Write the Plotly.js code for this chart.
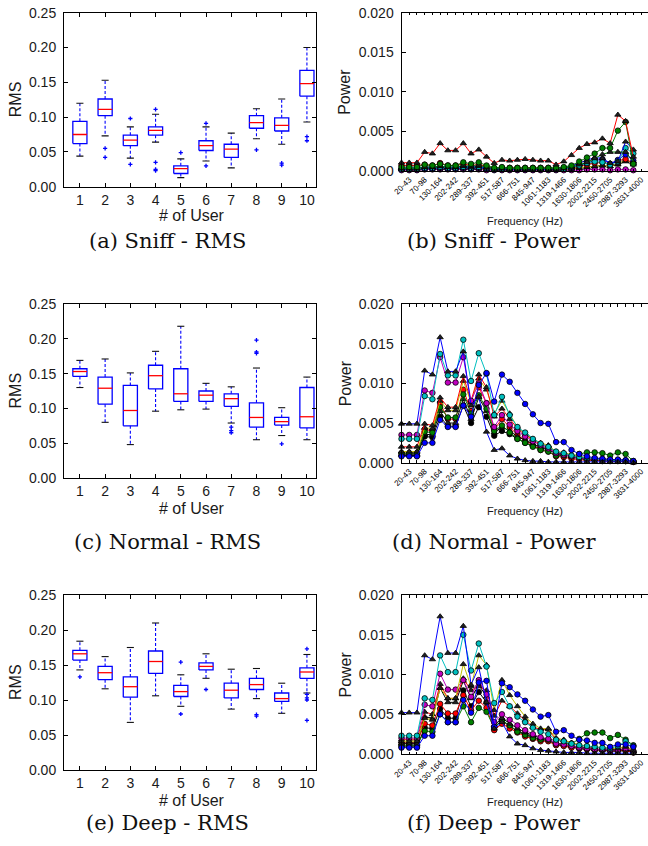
<!DOCTYPE html>
<html><head><meta charset="utf-8">
<script src="https://cdn.plot.ly/plotly-3.0.1.min.js"></script>
<style>html,body{margin:0;padding:0;background:#fff;} #chart{width:648px;height:846px;}</style>
</head><body><div id="chart"></div>
<script>
// ---------- DATA ----------
const users = [1,2,3,4,5,6,7,8,9,10];
const bandLabels = ['20-43','70-98','130-164','202-242','289-337','392-451','517-587','666-751','845-947','1061-1183','1319-1466','1630-1806','2002-2215','2450-2705','2987-3293','3631-4000'];

// Box statistics (upper whisker, Q3, median, Q1, lower whisker, outliers)
const sniffHi  = [0.120,0.153,0.086,0.104,0.040,0.086,0.077,0.112,0.126,0.200];
const sniffQ3  = [0.094,0.126,0.074,0.086,0.030,0.066,0.061,0.102,0.099,0.167];
const sniffMed = [0.075,0.111,0.067,0.081,0.026,0.059,0.054,0.092,0.088,0.148];
const sniffQ1  = [0.062,0.102,0.059,0.074,0.019,0.052,0.042,0.084,0.080,0.130];
const sniffLo  = [0.044,0.073,0.041,0.064,0.013,0.037,0.027,0.069,0.061,0.093];
const sniffOut = [[],[0.055,0.042],[0.098,0.032],[0.111,0.035,0.025,0.023],[0.049],[0.091,0.030],[],[0.053],[0.034,0.031],[0.072,0.066]];

const normalHi  = [0.169,0.171,0.151,0.182,0.218,0.136,0.131,0.158,0.101,0.145];
const normalQ3  = [0.157,0.145,0.133,0.162,0.157,0.125,0.121,0.108,0.087,0.130];
const normalMed = [0.153,0.129,0.097,0.147,0.121,0.119,0.114,0.087,0.081,0.088];
const normalQ1  = [0.146,0.106,0.075,0.128,0.110,0.110,0.103,0.073,0.076,0.072];
const normalLo  = [0.130,0.080,0.048,0.096,0.098,0.099,0.079,0.055,0.061,0.055];
const normalOut = [[],[],[],[],[],[],[0.073,0.068,0.065],[0.198,0.181,0.179],[0.049],[]];

const deepHi  = [0.184,0.162,0.175,0.210,0.136,0.166,0.144,0.145,0.124,0.165];
const deepQ3  = [0.171,0.148,0.133,0.170,0.121,0.153,0.124,0.131,0.110,0.146];
const deepMed = [0.166,0.139,0.119,0.155,0.112,0.148,0.114,0.122,0.102,0.140];
const deepQ1  = [0.157,0.129,0.104,0.138,0.105,0.143,0.103,0.115,0.098,0.131];
const deepLo  = [0.143,0.116,0.068,0.106,0.091,0.131,0.087,0.102,0.081,0.110];
const deepOut = [[0.133],[],[],[],[0.154,0.080],[0.115],[],[0.079,0.077],[],[0.173,0.108,0.103,0.100,0.071]];

// Power per frequency band (31 bands)
const sniffRedTri   = [0.00105,0.00105,0.00105,0.0024,0.0022,0.0035,0.0026,0.0026,0.0035,0.0022,0.0027,0.0018,0.0010,0.0014,0.0013,0.0014,0.0015,0.0014,0.0013,0.0013,0.0008,0.0012,0.0020,0.0029,0.0034,0.0036,0.0041,0.0035,0.0071,0.0063,0.0018];
const sniffGreenCirc= [0.0005,0.0005,0.0005,0.0008,0.0007,0.0009,0.0007,0.0007,0.0011,0.0009,0.0011,0.0007,0.0004,0.0005,0.0004,0.0004,0.0004,0.0004,0.0004,0.0004,0.0004,0.0005,0.0007,0.0012,0.0017,0.0022,0.0029,0.0029,0.0051,0.0062,0.0009];
const sniffGreenTri = [0.0003,0.0003,0.0003,0.0005,0.0005,0.0006,0.0005,0.0005,0.0007,0.0006,0.0007,0.0005,0.0003,0.0004,0.0003,0.0003,0.0003,0.0003,0.0003,0.0003,0.0003,0.0004,0.0005,0.0008,0.0011,0.0016,0.0021,0.0024,0.0024,0.0024,0.0012];
const sniffBlueTri  = [0.0004,0.0004,0.0004,0.0005,0.0005,0.0006,0.0005,0.0005,0.0006,0.0005,0.0006,0.0004,0.0003,0.0003,0.0003,0.0003,0.0003,0.0003,0.0003,0.0003,0.0003,0.0004,0.0006,0.0010,0.0014,0.0017,0.0016,0.0010,0.0012,0.0037,0.0027];
const sniffCyanCirc = [0.0003,0.0003,0.0003,0.0004,0.0004,0.0005,0.0004,0.0004,0.0005,0.0004,0.0005,0.0004,0.0002,0.0003,0.0003,0.0003,0.0003,0.0003,0.0003,0.0003,0.0003,0.0003,0.0005,0.0007,0.0010,0.0012,0.0011,0.0008,0.0012,0.0029,0.0022];
const sniffBlueCirc = [0.0002,0.0002,0.0002,0.0003,0.0003,0.0004,0.0003,0.0003,0.0004,0.0003,0.0004,0.0003,0.0002,0.0002,0.0002,0.0002,0.0002,0.0002,0.0002,0.0002,0.0002,0.0003,0.0004,0.0007,0.0010,0.0013,0.0015,0.0009,0.0014,0.0021,0.0013];
const sniffRedCirc  = [0.0007,0.0007,0.0007,0.0008,0.0007,0.0010,0.0007,0.0007,0.0009,0.0007,0.0008,0.0006,0.0003,0.0004,0.0004,0.0004,0.0004,0.0004,0.0004,0.0004,0.0003,0.0004,0.0004,0.0006,0.0008,0.0010,0.0011,0.0009,0.0013,0.0015,0.0010];
const sniffYellowTri= [0.0002,0.0002,0.0002,0.0003,0.0003,0.0003,0.0003,0.0003,0.0003,0.0003,0.0003,0.0002,0.0002,0.0002,0.0002,0.0002,0.0002,0.0002,0.0002,0.0002,0.0002,0.0002,0.0003,0.0004,0.0005,0.0006,0.0007,0.0006,0.0009,0.0014,0.0010];
const sniffBlackTri = [0.0003,0.0003,0.0003,0.0004,0.0004,0.0004,0.0004,0.0004,0.0004,0.0004,0.0004,0.0003,0.0002,0.0002,0.0002,0.0002,0.0002,0.0002,0.0002,0.0002,0.0002,0.0002,0.0003,0.0004,0.0005,0.0006,0.0007,0.0006,0.0008,0.0012,0.0008];
const sniffMagCirc  = [0.0001,0.0001,0.0001,0.0002,0.0002,0.0002,0.0002,0.0002,0.0002,0.0002,0.0002,0.0001,0.0001,0.0001,0.0001,0.0001,0.0001,0.0001,0.0001,0.0001,0.0001,0.0001,0.0001,0.0001,0.0002,0.0002,0.0002,0.0001,0.0002,0.0002,0.0001];

const normalBlueTri  = [0.0049,0.0049,0.0049,0.0116,0.0111,0.0158,0.0115,0.0115,0.0140,0.0072,0.0083,0.0039,0.0016,0.0018,0.0009,0.0005,0.0003,0.0002,0.0002,0.0001,0.0001,0.0001,0.0001,0.0001,0.0001,0.0001,0.0001,0.0001,0.0001,0.0001,0.0000];
const normalBlueCirc = [0.0008,0.0008,0.0008,0.0025,0.0025,0.0054,0.0045,0.0045,0.0072,0.0058,0.0098,0.0113,0.0077,0.0111,0.0102,0.0088,0.0074,0.0061,0.0050,0.0049,0.0026,0.0026,0.0016,0.0011,0.0008,0.0006,0.0005,0.0004,0.0004,0.0003,0.0002];
const normalCyanCirc = [0.0030,0.0030,0.0030,0.0084,0.0080,0.0137,0.0110,0.0110,0.0155,0.0103,0.0138,0.0112,0.0060,0.0083,0.0060,0.0045,0.0038,0.0030,0.0024,0.0020,0.0014,0.0012,0.0009,0.0007,0.0006,0.0005,0.0004,0.0003,0.0003,0.0003,0.0002];
const normalMagCirc  = [0.0035,0.0035,0.0035,0.0091,0.0088,0.0133,0.0101,0.0101,0.0133,0.0078,0.0100,0.0075,0.0045,0.0060,0.0048,0.0040,0.0033,0.0027,0.0022,0.0018,0.0012,0.0010,0.0008,0.0006,0.0005,0.0004,0.0004,0.0003,0.0003,0.0003,0.0002];
const normalRedTri   = [0.0020,0.0020,0.0020,0.0049,0.0047,0.0082,0.0070,0.0070,0.0109,0.0078,0.0111,0.0095,0.0058,0.0068,0.0055,0.0043,0.0035,0.0029,0.0023,0.0021,0.0013,0.0012,0.0009,0.0007,0.0006,0.0005,0.0004,0.0004,0.0003,0.0003,0.0002];
const normalYellowTri= [0.0014,0.0014,0.0014,0.0044,0.0043,0.0078,0.0066,0.0066,0.0103,0.0076,0.0106,0.0092,0.0062,0.0078,0.0062,0.0045,0.0037,0.0030,0.0025,0.0022,0.0014,0.0013,0.0010,0.0008,0.0006,0.0005,0.0005,0.0004,0.0004,0.0003,0.0002];
const normalGreenCirc= [0.0012,0.0012,0.0012,0.0039,0.0038,0.0070,0.0057,0.0057,0.0086,0.0062,0.0085,0.0068,0.0040,0.0047,0.0038,0.0030,0.0025,0.0020,0.0016,0.0014,0.0009,0.0009,0.0008,0.0011,0.0013,0.0013,0.0012,0.0009,0.0013,0.0011,0.0002];
const normalBlackTri = [0.0010,0.0010,0.0010,0.0036,0.0035,0.0065,0.0050,0.0050,0.0080,0.0055,0.0082,0.0065,0.0038,0.0045,0.0040,0.0033,0.0028,0.0023,0.0019,0.0018,0.0012,0.0011,0.0008,0.0007,0.0005,0.0004,0.0004,0.0003,0.0003,0.0003,0.0002];
const normalRedCirc  = [0.0012,0.0012,0.0012,0.0042,0.0040,0.0075,0.0055,0.0055,0.0092,0.0065,0.0095,0.0075,0.0042,0.0055,0.0045,0.0035,0.0028,0.0022,0.0016,0.0014,0.0008,0.0007,0.0005,0.0004,0.0003,0.0003,0.0002,0.0002,0.0002,0.0002,0.0001];
const normalBlackCirc= [0.0009,0.0009,0.0009,0.0033,0.0032,0.0058,0.0046,0.0046,0.0072,0.0050,0.0070,0.0058,0.0034,0.0040,0.0036,0.0030,0.0025,0.0021,0.0018,0.0017,0.0011,0.0010,0.0008,0.0006,0.0005,0.0004,0.0003,0.0003,0.0003,0.0002,0.0001];

const deepBlueTri  = [0.0052,0.0052,0.0052,0.0124,0.0119,0.0173,0.0127,0.0127,0.0161,0.0087,0.0109,0.0065,0.0032,0.0040,0.0022,0.0013,0.0011,0.0007,0.0005,0.0004,0.0003,0.0002,0.0002,0.0002,0.0001,0.0001,0.0001,0.0001,0.0001,0.0001,0.0001];
const deepBlueCirc = [0.0008,0.0008,0.0008,0.0023,0.0023,0.0050,0.0040,0.0040,0.0068,0.0052,0.0090,0.0092,0.0034,0.0089,0.0084,0.0075,0.0067,0.0056,0.0047,0.0049,0.0028,0.0030,0.0023,0.0018,0.0017,0.0014,0.0014,0.0009,0.0012,0.0012,0.0009];
const deepCyanCirc = [0.0023,0.0023,0.0023,0.0070,0.0068,0.0124,0.0103,0.0103,0.0150,0.0105,0.0139,0.0110,0.0064,0.0078,0.0060,0.0047,0.0040,0.0033,0.0028,0.0025,0.0018,0.0016,0.0013,0.0011,0.0010,0.0009,0.0008,0.0007,0.0010,0.0016,0.0010];
const deepYellowTri= [0.0016,0.0016,0.0016,0.0045,0.0043,0.0083,0.0070,0.0070,0.0113,0.0085,0.0124,0.0112,0.0055,0.0093,0.0074,0.0060,0.0047,0.0038,0.0032,0.0032,0.0020,0.0018,0.0014,0.0012,0.0010,0.0009,0.0008,0.0007,0.0007,0.0009,0.0005];
const deepMagCirc  = [0.0020,0.0020,0.0020,0.0062,0.0060,0.0101,0.0081,0.0081,0.0093,0.0072,0.0093,0.0075,0.0040,0.0050,0.0043,0.0036,0.0030,0.0025,0.0021,0.0019,0.0013,0.0012,0.0010,0.0008,0.0007,0.0006,0.0006,0.0005,0.0005,0.0007,0.0004];
const deepRedTri   = [0.0018,0.0018,0.0018,0.0053,0.0050,0.0088,0.0070,0.0070,0.0095,0.0080,0.0085,0.0080,0.0048,0.0067,0.0060,0.0051,0.0043,0.0034,0.0031,0.0031,0.0018,0.0017,0.0014,0.0011,0.0010,0.0008,0.0008,0.0007,0.0006,0.0010,0.0003];
const deepBlackTri = [0.0013,0.0013,0.0013,0.0047,0.0045,0.0083,0.0065,0.0065,0.0092,0.0070,0.0087,0.0072,0.0036,0.0045,0.0038,0.0032,0.0027,0.0023,0.0020,0.0019,0.0013,0.0012,0.0010,0.0008,0.0007,0.0006,0.0005,0.0005,0.0005,0.0006,0.0003];
const deepGreenCirc= [0.0011,0.0011,0.0011,0.0029,0.0028,0.0050,0.0040,0.0040,0.0060,0.0040,0.0058,0.0053,0.0033,0.0043,0.0036,0.0028,0.0024,0.0020,0.0018,0.0018,0.0013,0.0013,0.0013,0.0019,0.0026,0.0027,0.0027,0.0020,0.0024,0.0018,0.0011];
const deepRedCirc  = [0.0014,0.0014,0.0014,0.0038,0.0036,0.0063,0.0051,0.0051,0.0074,0.0055,0.0067,0.0058,0.0030,0.0038,0.0032,0.0027,0.0022,0.0019,0.0016,0.0016,0.0011,0.0010,0.0008,0.0007,0.0006,0.0005,0.0005,0.0004,0.0004,0.0005,0.0002];
const deepBlackCirc= [0.0009,0.0009,0.0009,0.0033,0.0032,0.0057,0.0045,0.0045,0.0080,0.0060,0.0078,0.0065,0.0034,0.0042,0.0035,0.0029,0.0025,0.0021,0.0018,0.0017,0.0012,0.0011,0.0009,0.0007,0.0006,0.0005,0.0005,0.0004,0.0004,0.0004,0.0002];

// ---------- STYLE ----------
const C = {b:'#0000ff', r:'#ff0000', g:'#008000', c:'#00bfbf', m:'#bf00bf', y:'#bfbf00', k:'#000000'};
const W = 648, H = 846;
const px = v => v / W, py = v => 1 - v / H;

const traces = [];

function addBoxes(hi, q3, med, q1, lo, out, n) {
  const xa = 'x' + (n === 1 ? '' : n), ya = 'y' + (n === 1 ? '' : n);
  const bw = 0.28, cw = 0.14;
  const bx=[],by=[],mx=[],my=[],wx=[],wy=[],cx=[],cy=[],ox=[],oy=[];
  users.forEach((u,i) => {
    bx.push(u-bw,u+bw,u+bw,u-bw,u-bw,null); by.push(q1[i],q1[i],q3[i],q3[i],q1[i],null);
    mx.push(u-bw,u+bw,null); my.push(med[i],med[i],null);
    wx.push(u,u,null,u,u,null); wy.push(q3[i],hi[i],null,q1[i],lo[i],null);
    cx.push(u-cw,u+cw,null,u-cw,u+cw,null); cy.push(hi[i],hi[i],null,lo[i],lo[i],null);
    out[i].forEach(v => { ox.push(u); oy.push(v); });
  });
  const base = {type:'scatter', mode:'lines', xaxis:xa, yaxis:ya, hoverinfo:'skip', showlegend:false};
  traces.push(Object.assign({}, base, {x:wx, y:wy, line:{color:C.b, width:1.1, dash:'3px,2px'}}));
  traces.push(Object.assign({}, base, {x:cx, y:cy, line:{color:'#111', width:1.1}}));
  traces.push(Object.assign({}, base, {x:bx, y:by, line:{color:C.b, width:1.3}}));
  traces.push(Object.assign({}, base, {x:mx, y:my, line:{color:C.r, width:1.3}}));
  traces.push({type:'scatter', mode:'markers', xaxis:xa, yaxis:ya, x:ox, y:oy, showlegend:false, hoverinfo:'skip',
    marker:{symbol:'cross-thin', size:3, line:{color:C.b, width:1.3}, color:C.b}, cliponaxis:false});
}

function addPower(list, n) {
  const xa = 'x' + n, ya = 'y' + n;
  list.forEach(([vals, col, sym]) => {
    traces.push({type:'scatter', mode:'lines+markers', xaxis:xa, yaxis:ya,
      x: vals.map((v,i)=>i), y: vals, showlegend:false, hoverinfo:'skip', cliponaxis:false,
      line:{color:C[col], width:1},
      marker:{symbol: sym==='t'?'triangle-up':'circle', size: sym==='t'?5.5:5.5, color: sym==='t'? '#202020' : C[col],
              line:{color:'#000', width:0.8}}});
  });
}

addBoxes(sniffHi, sniffQ3, sniffMed, sniffQ1, sniffLo, sniffOut, 1);
addBoxes(normalHi, normalQ3, normalMed, normalQ1, normalLo, normalOut, 3);
addBoxes(deepHi, deepQ3, deepMed, deepQ1, deepLo, deepOut, 5);

addPower([[sniffMagCirc,'m','o'],[sniffBlackTri,'k','t'],[sniffYellowTri,'y','t'],[sniffRedCirc,'r','o'],
  [sniffBlueCirc,'b','o'],[sniffCyanCirc,'c','o'],[sniffBlueTri,'b','t'],[sniffGreenTri,'g','t'],
  [sniffGreenCirc,'g','o'],[sniffRedTri,'r','t']], 2);
addPower([[normalBlackCirc,'k','o'],[normalRedCirc,'r','o'],[normalBlackTri,'k','t'],[normalGreenCirc,'g','o'],
  [normalYellowTri,'y','t'],[normalRedTri,'r','t'],[normalMagCirc,'m','o'],[normalCyanCirc,'c','o'],
  [normalBlueCirc,'b','o'],[normalBlueTri,'b','t']], 4);
addPower([[deepBlackCirc,'k','o'],[deepRedCirc,'r','o'],[deepGreenCirc,'g','o'],[deepBlackTri,'k','t'],
  [deepRedTri,'r','t'],[deepMagCirc,'m','o'],[deepYellowTri,'y','t'],[deepCyanCirc,'c','o'],
  [deepBlueCirc,'b','o'],[deepBlueTri,'b','t']], 6);

// ---------- LAYOUT ----------
const sans = 'Liberation Sans, Arial, sans-serif';
const axCommon = {showline:true, linecolor:'#000', linewidth:1, ticks:'inside', tickcolor:'#000',
  zeroline:false, showgrid:false, fixedrange:true};

const rowsLeft  = [[12.7,186.7],[304,478],[595,770]];
const rowsRight = [[12.7,171],[304,462.7],[595,754]];
const layout = {width:W, height:H, margin:{l:0,r:0,t:0,b:0}, paper_bgcolor:'#fff', plot_bgcolor:'#fff',
  showlegend:false, font:{family:sans, color:'#1a1a1a'}, annotations:[]};

const allIdx = Array.from({length:32}, (_,i)=>i);
const freqText = allIdx.map(i => (i % 2 === 1) ? bandLabels[(i-1)/2] : '');

[0,1,2].forEach(r => {
  const nl = 2*r+1, nr = 2*r+2;
  const kl = nl === 1 ? '' : nl;
  const [lt, lb] = rowsLeft[r], [rt, rb] = rowsRight[r];
  layout['xaxis'+kl] = Object.assign({}, axCommon, {domain:[px(64), px(316)], range:[0.37,10.36],
    tickvals:users, ticklen:4, mirror:'ticks', anchor:'y'+kl, tickfont:{size:14, family:sans}, ticklabelstandoff:0});
  layout['yaxis'+kl] = Object.assign({}, axCommon, {domain:[py(lb), py(lt)], range:[0,0.25], dtick:0.05, tick0:0,
    tickformat:'.2f', ticklen:4, mirror:'ticks', anchor:'x'+kl, tickfont:{size:14, family:sans}, ticklabelstandoff:4});
  layout['xaxis'+nr] = Object.assign({}, axCommon, {domain:[px(401.5), 1], range:[0,31.9],
    tickvals:allIdx, ticktext:freqText, tickangle:-45, ticklen:2.5, mirror:'ticks', anchor:'y'+nr,
    tickfont:{size:8, family:sans, color:'#000'}});
  layout['yaxis'+nr] = Object.assign({}, axCommon, {domain:[py(rb), py(rt)], range:[0,0.02], dtick:0.005, tick0:0,
    tickformat:'.3f', ticklen:4, mirror:false, anchor:'x'+nr, tickfont:{size:14, family:sans}, ticklabelstandoff:4});
});

function ann(text, x, y, opts) {
  layout.annotations.push(Object.assign({text, x:px(x), y:py(y), xref:'paper', yref:'paper',
    showarrow:false, xanchor:'center', yanchor:'middle', font:{family:sans, size:16, color:'#1a1a1a'}}, opts||{}));
}
const serif = {family:'DejaVu Serif, serif', size:21, color:'#111'};
const capL = [['(a) Sniff - RMS',241],['(c) Normal - RMS',542],['(e) Deep - RMS',823]];
const capR = [['(b) Sniff - Power',241],['(d) Normal - Power',542],['(f) Deep - Power',823]];
const userLblY = [216, 508, 800];
const freqLblY = [221, 511, 802];
[0,1,2].forEach(r => {
  const [lt, lb] = rowsLeft[r], [rt, rb] = rowsRight[r];
  ann('RMS', 15.5, (lt+lb)/2, {textangle:-90});
  ann('Power', 345, (rt+rb)/2, {textangle:-90});
  ann('# of User', 192, userLblY[r]);
  ann('Frequency (Hz)', 525, freqLblY[r], {font:{family:sans, size:11, color:'#1a1a1a'}});
  ann(capL[r][0], 167, capL[r][1], {font:serif});
  ann(capR[r][0], 494, capR[r][1], {font:serif});
});

Plotly.newPlot('chart', traces, layout, {staticPlot:true, displayModeBar:false});
</script>
</body></html>
